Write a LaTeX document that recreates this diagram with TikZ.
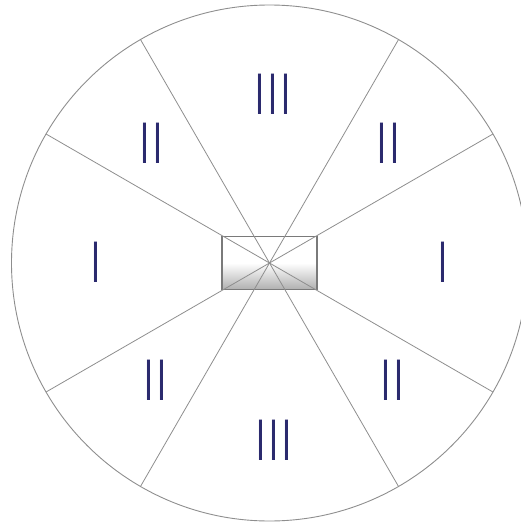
\documentclass[tikz,border=0pt]{standalone}
\usepackage{fontspec}
\setmainfont{Liberation Sans}
\usepackage{xcolor}
\usepackage{graphicx}
\usetikzlibrary{calc}
\definecolor{TallyNavy}{HTML}{2B2A6E}
\definecolor{WheelGray}{HTML}{8E8E8E}
\definecolor{BoxGray}{HTML}{7A7A7A}
\newcommand{\tally}[1]{\scalebox{0.55}[1]{#1}}

\begin{document}
\begin{tikzpicture}[
    x=1pt, y=-1pt,
    rim/.style={draw=WheelGray, line width=0.9pt},
    spoke/.style={draw=WheelGray, line width=0.8pt},
    hubbox/.style={draw=BoxGray, line width=1.4pt, minimum width=95pt, minimum height=53pt,
        inner sep=0pt, top color=white, bottom color=gray!62, middle color=white},
    numeral/.style={inner sep=0pt, TallyNavy, font=\fontsize{58.7}{60}\selectfont}
]
\useasboundingbox (0,0) rectangle (521,525);
\clip (0,0) rectangle (521,525);

% Wheel
\coordinate (hub) at (269.5,263);
\draw[rim] (hub) circle[radius=258];
\node[hubbox] (box) at (hub) {};
\foreach \a in {30,60,120,150,210,240,300,330}
    \coordinate (rim\a) at ($(hub)+(\a:258)$);
\foreach \a in {30,60,120,150,210,240,300,330}
    \draw[spoke] (hub) -- (rim\a);

% Sector numerals
\node[numeral] (top) at (273,94) {\tally{I\kern7.3pt I\kern7.3pt I}};
\node[numeral] (upleft) at (151,143) {\tally{I\kern7.3pt I}};
\node[numeral] (upright) at (388,143) {\tally{I\kern7.3pt I}};
\node[numeral] (left) at (96,262) {\tally{I}};
\node[numeral] (right) at (443,262) {\tally{I}};
\node[numeral] (lowleft) at (155,380) {\tally{I\kern7.3pt I}};
\node[numeral] (lowright) at (392,380) {\tally{I\kern7.3pt I}};
\node[numeral] (bottom) at (274,440) {\tally{I\kern7.3pt I\kern7.3pt I}};
\end{tikzpicture}
\end{document}
